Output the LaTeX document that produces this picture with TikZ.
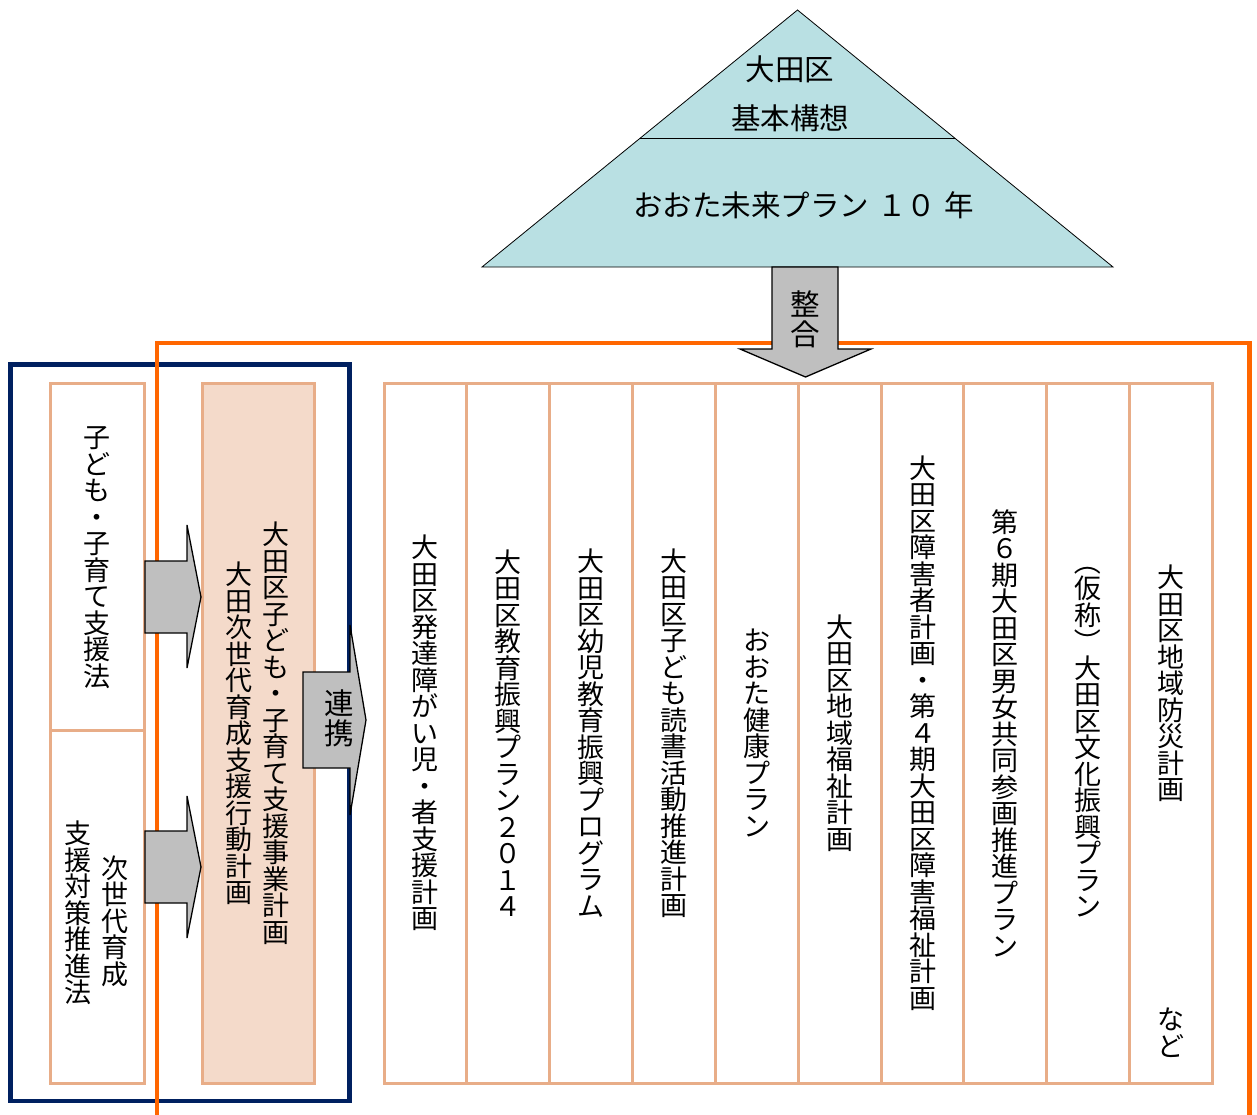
\documentclass[tikz,border=0pt]{standalone}
\usepackage{fontspec}
\usepackage{graphicx}
\newfontfamily\jp{Noto Sans CJK JP}
\definecolor{triC}{HTML}{B9E0E3}
\definecolor{peachC}{HTML}{E8AD88}
\definecolor{peachF}{HTML}{F4DACA}
\definecolor{orangeC}{HTML}{FF6600}
\definecolor{navyC}{HTML}{002060}
\definecolor{grayC}{HTML}{BFBFBF}
\def\VEnd{VEND}
\def\Vi#1{\ifx#1\VEnd\else\hbox to 30pt{\hss#1\hss}\expandafter\Vi\fi}
\newcommand\V[2][26.5pt]{\vbox{\baselineskip=#1\lineskiplimit=-100pt\lineskip=0pt\Vi#2\VEnd}}
\newcommand\Lp{\rotatebox[origin=c]{-90}{（}}
\newcommand\Rp{\rotatebox[origin=c]{-90}{）}}
\tikzset{
  peachbox/.style={draw=peachC, line width=3pt},
  blockarrow/.style={draw=black, fill=grayC, line width=1.3pt, line join=miter},
  vt/.style={font=\jp\fontsize{27}{26.5}\selectfont, inner sep=0pt, text=black},
  tt/.style={font=\jp\fontsize{29.5}{30}\selectfont, inner sep=0pt, text=black},
}
\begin{document}
\begin{tikzpicture}[x=1pt,y=-1pt]
\useasboundingbox (0,0) rectangle (1257,1115);
% pyramid
\draw[fill=triC, draw=black, line width=0.8pt] (797.5,10) -- (1113,267) -- (482,267) -- cycle;
\draw[black, line width=0.8pt] (640.4,138) -- (954.6,138);
\node[tt] (t1) at (790,69) {大田区};
\node[tt] (t2) at (790,118.5) {基本構想};
\node[tt] (t3) at (803.5,205) {おおた未来プラン\hspace{8pt}１０\hspace{8pt}年};
% navy box
\draw[navyC, line width=4.5pt] (10.5,364.5) rectangle (349.5,1101);
% orange frame
\draw[orangeC, line width=4.5pt] (157,1115) -- (157,343) -- (1249.5,343) -- (1249.5,1115);
% left law box
\draw[peachbox] (50,383.5) rectangle (144,1083);
\draw[peachbox] (50,730.5) -- (144,730.5);
% middle plan box
\draw[peachbox, fill=peachF] (202,383.5) rectangle (314,1083);
% right plans
\draw[peachbox] (384,383.5) rectangle (1212.5,1083);
\foreach \i in {1,...,9} {
  \draw[peachbox] ({384+82.85*\i},383.5) -- ({384+82.85*\i},1083);
}
% texts left
\node[vt] (law1) at (97,557.5) {\V{子ども・子育て支援法}};
\node[vt] (law2a) at (115,921) {\V{次世代育成}};
\node[vt] (law2b) at (78,913) {\V{支援対策推進法}};
\node[vt] (mid1) at (276,733) {\V{大田区子ども・子育て支援事業計画}};
\node[vt] (mid2) at (239,733.5) {\V{大田次世代育成支援行動計画}};
% columns
\node[vt] (c1) at (425.4,733) {\V{大田区発達障がい児・者支援計画}};
\node[vt] (c2) at (508.3,733) {\V{大田区教育振興プラン２０１４}};
\node[vt] (c3) at (591.1,733) {\V{大田区幼児教育振興プログラム}};
\node[vt] (c4) at (674.0,733) {\V{大田区子ども読書活動推進計画}};
\node[vt] (c5) at (756.8,733) {\V{おおた健康プラン}};
\node[vt] (c6) at (839.7,733) {\V{大田区地域福祉計画}};
\node[vt] (c7) at (922.5,733) {\V{大田区障害者計画・第４期大田区障害福祉計画}};
\node[vt] (c8) at (1005.4,733) {\V{第６期大田区男女共同参画推進プラン}};
\node[vt] (c9) at (1088.2,733) {\V{\Lp 仮称\Rp 大田区文化振興プラン}};
\node[vt] (c10a) at (1171.1,683.5) {\V{大田区地域防災計画}};
\node[vt] (c10b) at (1171.1,1032.5) {\V{など}};
% block arrows
\draw[blockarrow] (772,267) -- (838,267) -- (838,349) -- (871,349) -- (805.5,377) -- (740,349) -- (772,349) -- cycle;
\node[tt] (seigo) at (805.5,319) {\V[30pt]{整合}};
\draw[blockarrow] (145,561) -- (187,561) -- (187,525) -- (201,597) -- (187,668) -- (187,633) -- (145,633) -- cycle;
\draw[blockarrow] (145,831) -- (187,831) -- (187,796) -- (201,867) -- (187,938) -- (187,903) -- (145,903) -- cycle;
\draw[blockarrow] (303,672) -- (350,672) -- (350,625) -- (366,720) -- (350,815) -- (350,768) -- (303,768) -- cycle;
\node[tt] (renkei) at (339,718) {\V[30pt]{連携}};
\end{tikzpicture}
\end{document}
